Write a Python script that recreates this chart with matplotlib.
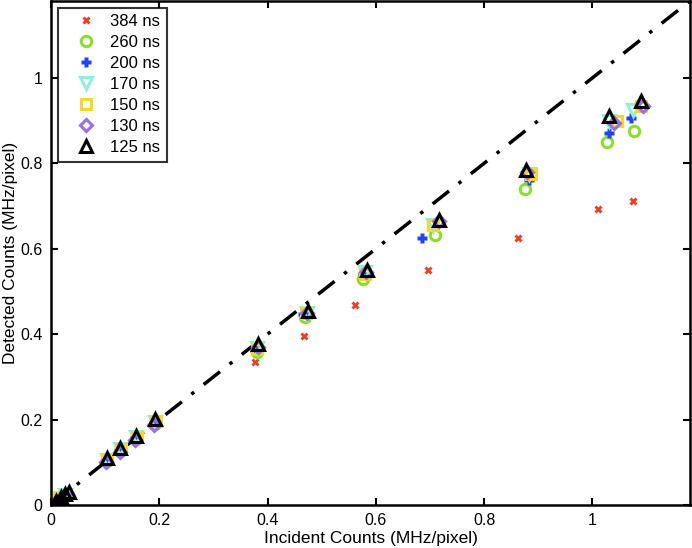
import matplotlib.pyplot as plt

plt.rcParams['font.family'] = ['Liberation Sans', 'DejaVu Sans']

# incident / detected counts (MHz/pixel) for each dead time
labels = ['384 ns', '260 ns', '200 ns', '170 ns', '150 ns', '130 ns', '125 ns']

x_384 = [0.008, 0.015, 0.022, 0.377, 0.468, 0.562, 0.697, 0.862, 1.011, 1.074]
y_384 = [0.007, 0.014, 0.020, 0.335, 0.396, 0.468, 0.550, 0.625, 0.693, 0.712]

x_260 = [0.008, 0.016, 0.024, 0.103, 0.128, 0.157, 0.192, 0.380, 0.470, 0.576, 0.710, 0.876, 1.026, 1.076]
y_260 = [0.008, 0.015, 0.022, 0.104, 0.127, 0.155, 0.190, 0.358, 0.440, 0.530, 0.632, 0.740, 0.850, 0.875]

x_200 = [0.008, 0.016, 0.024, 0.102, 0.127, 0.156, 0.191, 0.376, 0.466, 0.577, 0.686, 0.882, 1.030, 1.072]
y_200 = [0.008, 0.016, 0.023, 0.105, 0.129, 0.157, 0.193, 0.364, 0.446, 0.540, 0.625, 0.760, 0.870, 0.905]

x_170 = [0.009, 0.017, 0.025, 0.103, 0.128, 0.157, 0.192, 0.380, 0.472, 0.580, 0.706, 0.882, 1.030, 1.074]
y_170 = [0.009, 0.016, 0.024, 0.106, 0.130, 0.158, 0.195, 0.368, 0.449, 0.545, 0.655, 0.775, 0.900, 0.925]

x_150 = [0.009, 0.017, 0.025, 0.104, 0.129, 0.158, 0.193, 0.381, 0.471, 0.580, 0.705, 0.886, 1.045, 1.090]
y_150 = [0.009, 0.017, 0.024, 0.107, 0.131, 0.159, 0.196, 0.366, 0.450, 0.540, 0.655, 0.775, 0.900, 0.935]

x_130 = [0.010, 0.018, 0.026, 0.102, 0.127, 0.156, 0.191, 0.382, 0.472, 0.582, 0.716, 0.880, 1.040, 1.094]
y_130 = [0.007, 0.015, 0.023, 0.100, 0.124, 0.153, 0.188, 0.370, 0.450, 0.545, 0.665, 0.780, 0.895, 0.935]

x_125 = [0.010, 0.018, 0.026, 0.034, 0.103, 0.128, 0.157, 0.192, 0.383, 0.475, 0.584, 0.717, 0.877, 1.030, 1.090]
y_125 = [0.010, 0.018, 0.026, 0.030, 0.110, 0.133, 0.162, 0.201, 0.378, 0.455, 0.550, 0.668, 0.785, 0.910, 0.945]

series = [(x_384, y_384), (x_260, y_260), (x_200, y_200), (x_170, y_170),
          (x_150, y_150), (x_130, y_130), (x_125, y_125)]
markers = ['X', 'o', 'P', 'v', 's', 'D', '^']
colors = ['#f03a22', '#88e02a', '#1f44ff', '#8ff0e0', '#f8d820', '#9a6ee8', 'black']
sizes = [6, 7.5, 6.5, 9, 6.5, 6.5, 9]
filled = [True, False, True, False, False, False, False]

fig = plt.figure(figsize=(6.92, 5.48), dpi=100)
ax = fig.add_axes([0.0737, 0.0785, 0.9233, 0.9197])

lim = 1.18
ax.plot([0, lim], [0, lim], color='black', lw=2.5, ls=(0, (6, 3.5, 1, 3.5)), zorder=1)

for (xs, ys), lab, m, c, s, f in zip(series, labels, markers, colors, sizes, filled):
    if f:
        ax.plot(xs, ys, ls='none', marker=m, ms=s, color=c, mec='none', label=lab)
    else:
        ax.plot(xs, ys, ls='none', marker=m, ms=s, mfc='none', mec=c, mew=2.2, label=lab)

ax.set_xlim(0, lim)
ax.set_ylim(0, lim)
ax.set_xticks([0, 0.2, 0.4, 0.6, 0.8, 1])
ax.set_xticklabels(['0', '0.2', '0.4', '0.6', '0.8', '1'])
ax.set_yticks([0, 0.2, 0.4, 0.6, 0.8, 1])
ax.set_yticklabels(['0', '0.2', '0.4', '0.6', '0.8', '1'])
ax.tick_params(direction='in', top=True, right=True, length=5, width=1.5,
               labelsize=11.5, pad=6)
for sp in ax.spines.values():
    sp.set_linewidth(1.8)

ax.set_xlabel('Incident Counts (MHz/pixel)', fontsize=12.5, labelpad=2)
ax.set_ylabel('Detected Counts (MHz/pixel)', fontsize=12.5, labelpad=2)

leg = ax.legend(loc='upper left', fontsize=12, frameon=True, fancybox=False,
                edgecolor='black', handletextpad=0.15, borderpad=0.4,
                labelspacing=0.36, handlelength=2.6, borderaxespad=0.4)
leg.get_frame().set_linewidth(1.5)

fig.savefig('out.png', dpi=100)
